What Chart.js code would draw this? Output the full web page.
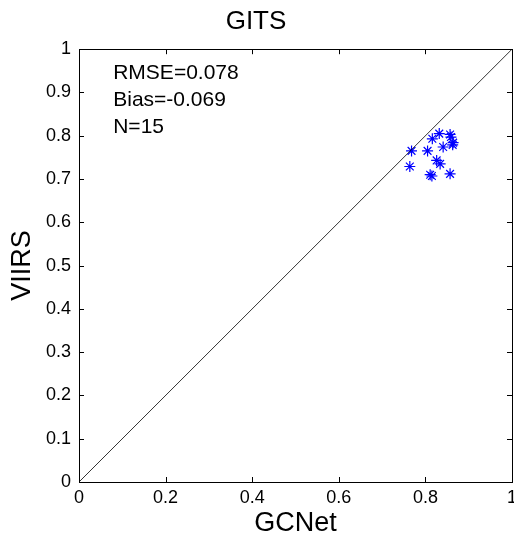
<!DOCTYPE html>
<html>
<head>
<meta charset="utf-8">
<script src="https://cdn.jsdelivr.net/npm/chart.js@4/dist/chart.umd.min.js"></script>
<style>
    html, body { margin: 0; padding: 0; background: #fff; }
    #wrap { width: 514px; height: 540px; }
</style>
</head>
<body>
<div id="wrap"><canvas id="scatterChart" width="514" height="540"></canvas></div>
<script>
// 数据
const gcnet = [0.832, 0.857, 0.859, 0.816, 0.864, 0.863, 0.841, 0.768, 0.805, 0.826, 0.834, 0.764, 0.811, 0.815, 0.857];
const viirs = [0.805, 0.803, 0.797, 0.793, 0.784, 0.779, 0.774, 0.765, 0.765, 0.743, 0.735, 0.729, 0.710, 0.707, 0.712];
const xTicks = [0, 0.2, 0.4, 0.6, 0.8, 1];
const yTicks = [0, 0.1, 0.2, 0.3, 0.4, 0.5, 0.6, 0.7, 0.8, 0.9, 1];
const xTickLabels = ['0', '0.2', '0.4', '0.6', '0.8', '1'];
const yTickLabels = ['0', '0.1', '0.2', '0.3', '0.4', '0.5', '0.6', '0.7', '0.8', '0.9', '1'];
const statsText = ['RMSE=0.078', 'Bias=-0.069', 'N=15'];
const statsPos = { x: 0.079, y: [0.944, 0.882, 0.820] };

const fontFamily = 'Arial, "Liberation Sans", sans-serif';

// 内向刻度 + 边框 (MATLAB 风格)
const boxPlugin = {
    id: 'boxPlugin',
    afterDatasetsDraw(chart) {
        const ctx = chart.ctx;
        const area = chart.chartArea;
        const xs = chart.scales.x;
        const ys = chart.scales.y;
        const len = 5;
        ctx.save();
        ctx.strokeStyle = '#000';
        ctx.lineWidth = 1;
        ctx.beginPath();
        xTicks.forEach(function(v) {
            const px = Math.round(xs.getPixelForValue(v)) + 0.5;
            ctx.moveTo(px, area.bottom);
            ctx.lineTo(px, area.bottom - len);
            ctx.moveTo(px, area.top);
            ctx.lineTo(px, area.top + len);
        });
        yTicks.forEach(function(v) {
            const py = Math.round(ys.getPixelForValue(v)) + 0.5;
            ctx.moveTo(area.left, py);
            ctx.lineTo(area.left + len, py);
            ctx.moveTo(area.right, py);
            ctx.lineTo(area.right - len, py);
        });
        ctx.stroke();
        ctx.strokeRect(Math.round(area.left) + 0.5, Math.round(area.top) + 0.5,
            Math.round(area.right - area.left), Math.round(area.bottom - area.top));

        // 统计文字
        ctx.fillStyle = '#000';
        ctx.font = '21px ' + fontFamily;
        ctx.textAlign = 'left';
        ctx.textBaseline = 'middle';
        statsText.forEach(function(t, i) {
            ctx.fillText(t, xs.getPixelForValue(statsPos.x), ys.getPixelForValue(statsPos.y[i]));
        });
        ctx.restore();
    }
};

const ctx = document.getElementById('scatterChart').getContext('2d');
new Chart(ctx, {
    type: 'scatter',
    data: {
        datasets: [{
            type: 'line',
            label: '1:1',
            data: [{ x: 0, y: 0 }, { x: 1, y: 1 }],
            borderColor: '#000',
            borderWidth: 0.8,
            pointRadius: 0,
            fill: false
        }, {
            label: 'GITS',
            data: gcnet.map(function(v, i) { return { x: v, y: viirs[i] }; }),
            pointStyle: 'star',
            pointRadius: 5.5,
            pointBorderWidth: 1.2,
            borderColor: '#0000ff',
            backgroundColor: '#0000ff'
        }]
    },
    options: {
        responsive: false,
        animation: false,
        layout: { autoPadding: false, padding: { left: 0, right: 2, top: 0, bottom: 0 } },
        plugins: {
            legend: { display: false },
            tooltip: { enabled: false },
            title: {
                display: true,
                text: 'GITS',
                color: '#000',
                font: { family: fontFamily, size: 26, weight: 'normal' },
                padding: { top: 6, bottom: 12 }
            }
        },
        scales: {
            x: {
                type: 'linear',
                min: 0,
                max: 1,
                grid: { display: false, drawTicks: false },
                border: { display: false },
                afterBuildTicks: function(scale) {
                    scale.ticks = xTicks.map(function(v) { return { value: v }; });
                },
                afterFit: function(scale) {
                    scale.height = 58;
                    scale.paddingLeft = 0;
                    scale.paddingRight = 0;
                },
                ticks: {
                    padding: 5,
                    color: '#000',
                    maxRotation: 0,
                    font: { family: fontFamily, size: 18 },
                    callback: function(value) { return xTickLabels[xTicks.indexOf(value)]; }
                },
                title: {
                    display: true,
                    text: 'GCNet',
                    color: '#000',
                    font: { family: fontFamily, size: 27 },
                    padding: { top: 0, bottom: 0 }
                }
            },
            y: {
                type: 'linear',
                min: 0,
                max: 1,
                grid: { display: false, drawTicks: false },
                border: { display: false },
                afterBuildTicks: function(scale) {
                    scale.ticks = yTicks.map(function(v) { return { value: v }; });
                },
                afterFit: function(scale) {
                    scale.width = 79;
                    scale.paddingTop = 0;
                    scale.paddingBottom = 0;
                },
                ticks: {
                    padding: 8,
                    color: '#000',
                    font: { family: fontFamily, size: 18 },
                    callback: function(value) { return yTickLabels[yTicks.indexOf(value)]; }
                },
                title: {
                    display: true,
                    text: 'VIIRS',
                    color: '#000',
                    font: { family: fontFamily, size: 27 },
                    padding: { top: 6, bottom: 0 }
                }
            }
        }
    },
    plugins: [boxPlugin]
});
</script>
</body>
</html>
